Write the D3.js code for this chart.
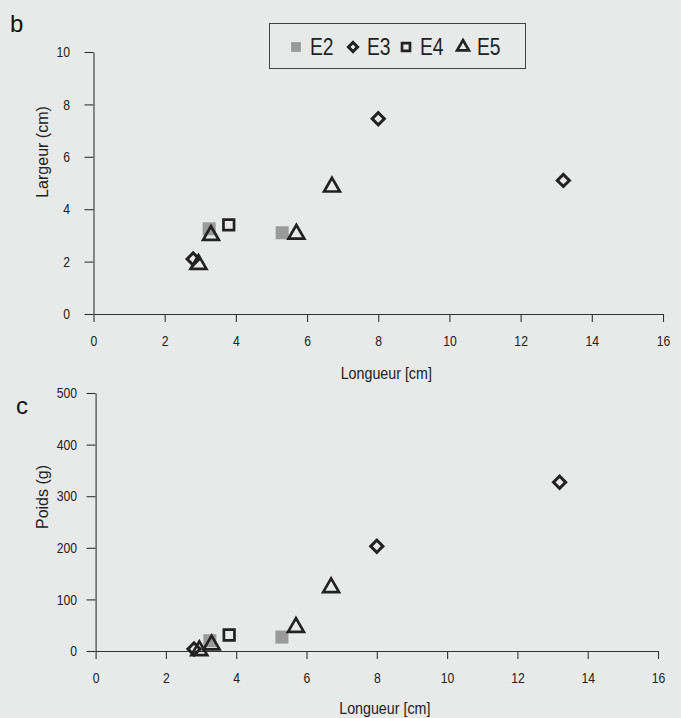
<!DOCTYPE html>
<html>
<head>
<meta charset="utf-8">
<script src="https://cdn.jsdelivr.net/npm/d3@7"></script>
<style>
  body { margin: 0; background: #e8eae9; }
  svg { display: block; }
  .tick text { font-family: "Liberation Sans", Arial, sans-serif; font-size: 14.5px; fill: #222; }
</style>
</head>
<body>
<svg id="chart" width="681" height="718"></svg>
<script>
// series, longueur (cm) shared by both plots
var e2Long = [3.25, 5.3];
var e2Larg = [3.25, 3.1];
var e2Poids = [20, 27];

var e3Long = [2.8, 8.0, 13.2];
var e3Larg = [2.1, 7.45, 5.1];
var e3Poids = [4, 203, 327];

var e4Long = [3.8];
var e4Larg = [3.4];
var e4Poids = [31];

var e5Long = [3.3, 2.95, 5.7, 6.7];
var e5Larg = [3.0, 1.9, 3.05, 4.85];
var e5Poids = [12, 1, 46, 123];

var seriesNames = ["E2", "E3", "E4", "E5"];
var xTicks = [0, 2, 4, 6, 8, 10, 12, 14, 16];
var largTicks = [0, 2, 4, 6, 8, 10];
var poidsTicks = [0, 100, 200, 300, 400, 500];

var svg = d3.select("#chart");
var sans = '"Liberation Sans", Arial, sans-serif';
var squeeze = 0.84; // the scan uses a narrow face

// marker drawing
function marker(g, name, big) {
    var k = big ? 1 : 0.75;
    if (name == "E2") {
        g.append("path")
            .attr("d", d3.symbol().type(d3.symbolSquare).size(170 * k * k)())
            .attr("fill", "#9a9a9a");
    } else if (name == "E3") {
        g.append("path")
            .attr("d", d3.symbol().type(d3.symbolSquare).size(74 * k * k)())
            .attr("transform", "rotate(45)")
            .attr("fill", "none").attr("stroke", "#222").attr("stroke-width", 3);
    } else if (name == "E4") {
        g.append("path")
            .attr("d", d3.symbol().type(d3.symbolSquare).size(112 * k * k)())
            .attr("fill", "none").attr("stroke", "#222").attr("stroke-width", 2.7);
    } else {
        g.append("path")
            .attr("d", d3.symbol().type(d3.symbolTriangle).size(108 * k * k)())
            .attr("fill", "none").attr("stroke", "#222").attr("stroke-width", 2.7)
            .attr("stroke-linejoin", "miter");
    }
}

function narrowText(x, y, size, anchor, txt) {
    return svg.append("text")
        .attr("transform", "translate(" + x + "," + y + ") scale(" + squeeze + ",1)")
        .attr("text-anchor", anchor)
        .attr("font-family", sans).attr("font-size", size).attr("fill", "#222")
        .text(txt);
}

function plot(opts) {
    var x = d3.scaleLinear().domain([0, 16]).range([opts.left, opts.right]);
    var y = d3.scaleLinear().domain(opts.yDomain).range([opts.bottom, opts.top]);

    var xAxis = svg.append("g")
        .attr("transform", "translate(0," + opts.bottom + ")")
        .call(d3.axisBottom(x).tickValues(xTicks).tickSize(8).tickPadding(14).tickSizeOuter(0));
    var yAxis = svg.append("g")
        .attr("transform", "translate(" + opts.left + ",0)")
        .call(d3.axisLeft(y).tickValues(opts.yTicks).tickSize(9).tickPadding(10).tickSizeOuter(0));
    [xAxis, yAxis].forEach(function (a) {
        a.selectAll("path, line").attr("stroke", "#333").attr("stroke-width", 1.1);
        a.selectAll(".tick text").attr("transform", "scale(" + squeeze + ",1)");
    });
    yAxis.selectAll(".tick text").attr("x", opts.yLabelX);

    narrowText((opts.left + opts.right) / 2 + 8, opts.titleY, 17, "middle", "Longueur [cm]");

    svg.append("text")
        .attr("transform", "translate(48," + opts.yTitleMid + ") rotate(-90)")
        .attr("text-anchor", "middle")
        .attr("font-family", sans).attr("font-size", 16).attr("fill", "#222")
        .text(opts.yTitle);

    svg.append("text")
        .attr("x", opts.letterX).attr("y", opts.letterY)
        .attr("font-family", sans).attr("font-size", 24).attr("fill", "#111")
        .text(opts.letter);

    var data = [
        {name: "E2", xs: e2Long, ys: opts.values[0]},
        {name: "E3", xs: e3Long, ys: opts.values[1]},
        {name: "E4", xs: e4Long, ys: opts.values[2]},
        {name: "E5", xs: e5Long, ys: opts.values[3]}
    ];
    data.forEach(function (s) {
        s.xs.forEach(function (v, i) {
            var g = svg.append("g")
                .attr("transform", "translate(" + x(v) + "," + y(s.ys[i]) + ")");
            marker(g, s.name, true);
        });
    });
}

plot({
    left: 93.5, right: 663, top: 52, bottom: 314,
    yDomain: [0, 10], yTicks: largTicks, yTitle: "Largeur (cm)",
    yTitleMid: 152, yLabelX: -28, titleY: 379,
    values: [e2Larg, e3Larg, e4Larg, e5Larg],
    letter: "b", letterX: 10, letterY: 32
});

plot({
    left: 95.6, right: 658, top: 393, bottom: 651,
    yDomain: [0, 500], yTicks: poidsTicks, yTitle: "Poids (g)",
    yTitleMid: 497, yLabelX: -22, titleY: 714,
    values: [e2Poids, e3Poids, e4Poids, e5Poids],
    letter: "c", letterX: 16, letterY: 414
});

// legend of plot b
var legend = svg.append("g");
legend.append("rect")
    .attr("x", 269.5).attr("y", 23.5).attr("width", 256).attr("height", 45)
    .attr("fill", "none").attr("stroke", "#444").attr("stroke-width", 1);
var legendX = [296, 353, 406, 463];
seriesNames.forEach(function (n, i) {
    var g = legend.append("g").attr("transform", "translate(" + legendX[i] + ",47)");
    marker(g, n, false);
    narrowText(legendX[i] + 14, 55, 23, "start", n);
});
</script>
</body>
</html>
